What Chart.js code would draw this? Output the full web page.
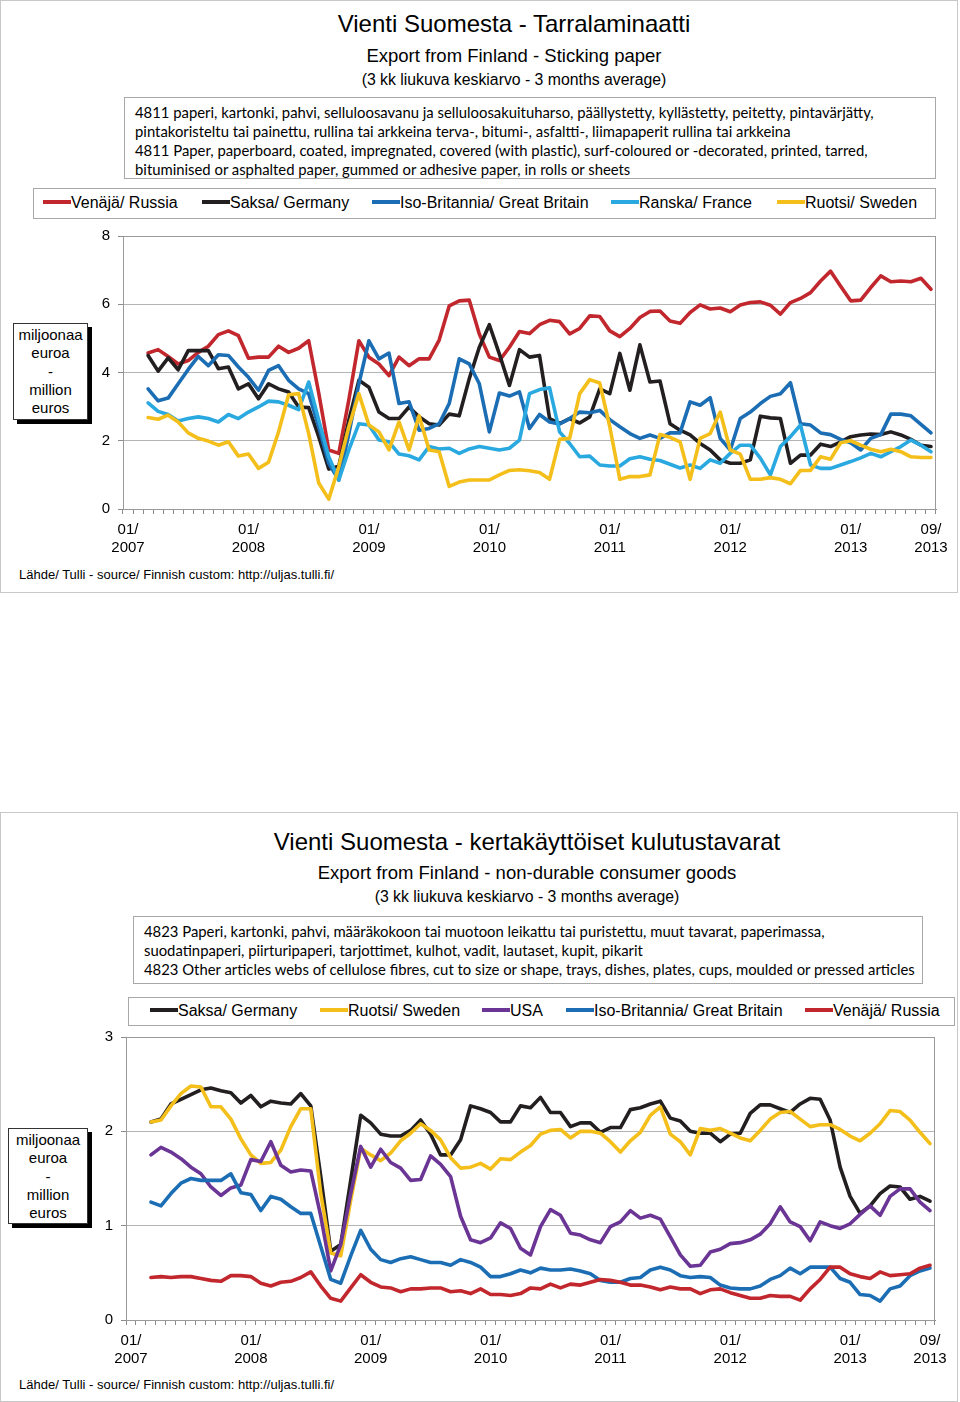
<!DOCTYPE html>
<html>
<head>
<meta charset="utf-8">
<script src="https://cdn.jsdelivr.net/npm/chart.js@4.4.0/dist/chart.umd.min.js"></script>
<style>
body { margin: 0; width: 960px; height: 1402px; position: relative; background: #fff; overflow: hidden;
       font-family: "Liberation Sans", Arial, sans-serif; color: #000; }
.frame { position: absolute; left: 0; width: 956px; border: 1px solid #c8c8c8; }
.abs { position: absolute; white-space: nowrap; }
.title { font-size: 24px; line-height: 28px; width: 800px; text-align: center; }
.sub { font-size: 18.5px; line-height: 22px; width: 800px; text-align: center; }
.note { font-size: 15.8px; line-height: 18px; width: 800px; text-align: center; }
.desc { position: absolute; border: 1px solid #a8a8a8; font-family: Lato, sans-serif; font-size: 14.85px; line-height: 19px; padding: 5px 0 0 10px; box-sizing: border-box; white-space: nowrap; }
.legbox { position: absolute; border: 1px solid #a8a8a8; box-sizing: border-box; }
.leg { position: absolute; font-size: 16px; line-height: 18px; white-space: nowrap; }
.leg i { display: inline-block; width: 28px; height: 4px; vertical-align: middle; margin-top: -3px; }
.ybox { position: absolute; border: 1px solid #333; background: #fff; box-shadow: 4px 4px 0 #000; font-size: 15px; line-height: 18.3px; text-align: center; padding-top: 2px; box-sizing: border-box; }
.src { position: absolute; font-size: 13px; line-height: 16px; white-space: nowrap; }
canvas { position: absolute; left: 0; }
</style>
</head>
<body>

<div class="frame" style="top:0;height:591px"></div>
<div class="frame" style="top:812px;height:588px"></div>

<div class="abs title" style="left:114px;top:10px">Vienti Suomesta - Tarralaminaatti</div>
<div class="abs sub" style="left:114px;top:45px">Export from Finland - Sticking paper</div>
<div class="abs note" style="left:114px;top:71px">(3 kk liukuva keskiarvo - 3 months average)</div>
<div class="desc" style="left:124px;top:97px;width:812px;height:82px">
4811 paperi, kartonki, pahvi, selluloosavanu ja selluloosakuituharso, päällystetty, kyllästetty, peitetty, pintavärjätty,<br>
pintakoristeltu tai painettu, rullina tai arkkeina terva-, bitumi-, asfaltti-, liimapaperit rullina tai arkkeina<br>
4811 Paper, paperboard, coated, impregnated, covered (with plastic), surf-coloured or -decorated, printed, tarred,<br>
bituminised or asphalted paper, gummed or adhesive paper, in rolls or sheets
</div>
<div class="legbox" style="left:33px;top:188px;width:903px;height:31px"></div>
<div id="leg1"></div>
<div class="ybox" style="left:13px;top:323px;width:75px;height:97px">miljoonaa<br>euroa<br>-<br>million<br>euros</div>
<canvas id="chart1" width="960" height="346" style="top:219px"></canvas>
<div class="src" style="left:19px;top:567px">Lähde/ Tulli - source/ Finnish custom: http://uljas.tulli.fi/</div>

<div class="abs title" style="left:127px;top:828px">Vienti Suomesta - kertakäyttöiset kulutustavarat</div>
<div class="abs sub" style="left:127px;top:862px">Export from Finland - non-durable consumer goods</div>
<div class="abs note" style="left:127px;top:888px">(3 kk liukuva keskiarvo - 3 months average)</div>
<div class="desc" style="left:133px;top:916px;width:790px;height:68px">
4823 Paperi, kartonki, pahvi, määräkokoon tai muotoon leikattu tai puristettu, muut tavarat, paperimassa,<br>
suodatinpaperi, piirturipaperi, tarjottimet, kulhot, vadit, lautaset, kupit, pikarit<br>
4823 Other articles webs of cellulose fibres, cut to size or shape, trays, dishes, plates, cups, moulded or pressed articles
</div>
<div class="legbox" style="left:128px;top:997px;width:827px;height:29px"></div>
<div id="leg2"></div>
<div class="ybox" style="left:8px;top:1128px;width:80px;height:96px">miljoonaa<br>euroa<br>-<br>million<br>euros</div>
<canvas id="chart2" width="960" height="356" style="top:1020px"></canvas>
<div class="src" style="left:19px;top:1377px">Lähde/ Tulli - source/ Finnish custom: http://uljas.tulli.fi/</div>

<script>
// Kuukaudet 01/2007 - 09/2013
const years = ['2007', '2008', '2009', '2010', '2011', '2012', '2013'];
const monthNames = ['01', '02', '03', '04', '05', '06', '07', '08', '09', '10', '11', '12'];
let months = [];
years.forEach(y => {
    monthNames.forEach(m => {
        if (!(y == '2013' && Number(m) > 9)) months.push(m + '/' + y);
    });
});
// Kuukaudet joille näytetään akselin teksti
const xTickLabels = ['01/2007', '01/2008', '01/2009', '01/2010', '01/2011', '01/2012', '01/2013', '09/2013'];

// --- Tarralaminaatti (milj. euroa), 03/2007 alkaen ---
const russia1 = [null, null,
    4.57, 4.67, 4.47, 4.25, 4.35, 4.59, 4.77, 5.11, 5.22, 5.08, 4.42, 4.45, 4.45, 4.77, 4.59, 4.71, 4.93, 3.4, 1.73, 1.63,
    3.2, 4.93, 4.45, 4.25, 3.91, 4.45, 4.20, 4.40, 4.40, 4.95, 5.95, 6.10, 6.12, 5.13, 4.45, 4.35, 4.74, 5.20, 5.14,
    5.40, 5.53, 5.49, 5.13, 5.29, 5.66, 5.64, 5.22, 5.05, 5.29, 5.61, 5.79, 5.80, 5.51, 5.44, 5.76, 5.98, 5.86, 5.89,
    5.78, 5.98, 6.05, 6.07, 5.97, 5.71, 6.05, 6.17, 6.34, 6.68, 6.97, 6.53, 6.10, 6.12, 6.49, 6.83, 6.66, 6.68, 6.66,
    6.76, 6.44];
const germany1 = [null, null,
    4.50, 4.04, 4.43, 4.08, 4.64, 4.64, 4.64, 4.11, 4.16, 3.52, 3.67, 3.23, 3.67, 3.52, 3.43, 2.99, 2.97, 2.12, 1.17, 1.25,
    2.6, 3.77, 3.57, 2.84, 2.65, 2.65, 2.99, 2.70, 2.50, 2.46, 2.78, 2.73, 3.82, 4.74, 5.40, 4.54, 3.62, 4.67, 4.45,
    4.50, 2.65, 2.50, 2.65, 2.52, 2.70, 3.52, 3.38, 4.56, 3.48, 4.81, 3.72, 3.75, 2.50, 2.31, 2.17, 1.92, 1.73, 1.44,
    1.34, 1.34, 1.44, 2.72, 2.67, 2.65, 1.34, 1.58, 1.58, 1.90, 1.83, 1.97, 2.12, 2.17, 2.20, 2.18, 2.26, 2.17, 2.04,
    1.87, 1.83];
const britain1 = [null, null,
    3.52, 3.17, 3.25, 3.67, 4.09, 4.47, 4.20, 4.52, 4.50, 4.16, 3.86, 3.48, 4.06, 4.20, 3.77, 3.52, 3.38, 2.41, 1.34, 0.85,
    2.2, 3.67, 4.93, 4.40, 4.57, 3.09, 3.14, 2.31, 2.36, 2.50, 3.09, 4.40, 4.25, 3.67, 2.26, 3.40, 3.31, 3.43, 2.36,
    2.77, 2.55, 2.49, 2.65, 2.84, 2.82, 2.89, 2.62, 2.41, 2.21, 2.07, 2.17, 2.07, 2.23, 2.23, 3.14, 3.04, 3.26, 2.07,
    1.73, 2.65, 2.84, 3.09, 3.30, 3.38, 3.70, 2.50, 2.46, 2.23, 2.18, 2.04, 1.94, 1.73, 2.07, 2.18, 2.78, 2.78, 2.73,
    2.48, 2.23];
const france1 = [null, null,
    3.11, 2.86, 2.77, 2.58, 2.65, 2.70, 2.65, 2.55, 2.77, 2.65, 2.84, 2.99, 3.16, 3.14, 3.04, 2.91, 3.72, 2.60, 1.53, 0.85,
    1.73, 2.50, 2.46, 2.02, 1.97, 1.61, 1.56, 1.44, 1.83, 1.76, 1.78, 1.63, 1.76, 1.83, 1.78, 1.73, 1.78, 2.02, 3.38,
    3.50, 3.55, 2.26, 1.92, 1.53, 1.55, 1.29, 1.26, 1.26, 1.47, 1.53, 1.46, 1.42, 1.31, 1.20, 1.29, 1.19, 1.44, 1.34,
    1.63, 1.87, 1.87, 1.49, 1.00, 1.83, 2.12, 2.46, 1.29, 1.19, 1.19, 1.29, 1.39, 1.50, 1.63, 1.53, 1.68, 1.83, 2.02,
    1.87, 1.68];
const sweden1 = [null, null,
    2.68, 2.63, 2.75, 2.55, 2.23, 2.07, 1.99, 1.87, 1.97, 1.55, 1.61, 1.19, 1.37, 2.26, 3.35, 3.38, 2.21, 0.76, 0.29, 1.24,
    2.41, 3.38, 2.46, 2.26, 1.73, 2.55, 1.73, 2.73, 1.73, 1.68, 0.66, 0.79, 0.85, 0.85, 0.85, 1.00, 1.13, 1.15, 1.12,
    1.07, 0.87, 2.04, 2.07, 3.38, 3.79, 3.69, 2.41, 0.87, 0.95, 0.95, 1.00, 2.18, 2.10, 1.97, 0.87, 2.07, 2.21, 2.84,
    1.73, 1.61, 0.87, 0.87, 0.92, 0.87, 0.74, 1.13, 1.13, 1.53, 1.46, 1.94, 2.00, 1.87, 1.75, 1.68, 1.75, 1.68, 1.53,
    1.51, 1.51];

// --- Kertakäyttöiset kulutustavarat (milj. euroa) ---
const germany2 = [null, null,
    2.10, 2.13, 2.29, 2.34, 2.39, 2.44, 2.46, 2.43, 2.41, 2.30, 2.38, 2.26, 2.32, 2.30, 2.29, 2.40, 2.27, 1.52, 0.73, 0.80,
    1.48, 2.17, 2.09, 1.97, 1.95, 1.95, 2.01, 2.12, 1.97, 1.75, 1.75, 1.91, 2.27, 2.24, 2.20, 2.10, 2.10, 2.27, 2.25,
    2.36, 2.20, 2.20, 2.05, 2.09, 2.09, 1.99, 2.04, 2.04, 2.23, 2.25, 2.29, 2.32, 2.14, 2.11, 2.00, 1.98, 1.98, 1.89,
    1.97, 1.98, 2.19, 2.28, 2.28, 2.24, 2.20, 2.29, 2.35, 2.34, 2.12, 1.62, 1.31, 1.13, 1.21, 1.34, 1.42, 1.41, 1.28,
    1.31, 1.26];
const sweden2 = [null, null,
    2.10, 2.12, 2.27, 2.40, 2.48, 2.47, 2.26, 2.26, 2.13, 1.92, 1.75, 1.66, 1.67, 1.80, 2.05, 2.24, 2.24, 1.34, 0.71, 0.68,
    1.27, 1.82, 1.75, 1.69, 1.77, 1.90, 1.98, 2.08, 2.01, 1.91, 1.72, 1.61, 1.62, 1.66, 1.60, 1.71, 1.70, 1.78, 1.85,
    1.97, 2.01, 2.02, 1.93, 2.00, 2.00, 1.98, 1.89, 1.78, 1.90, 1.99, 2.17, 2.26, 1.97, 1.89, 1.75, 2.03, 2.01, 2.03,
    1.98, 1.93, 1.90, 2.01, 2.13, 2.20, 2.21, 2.13, 2.05, 2.07, 2.07, 2.02, 1.95, 1.90, 1.98, 2.08, 2.22, 2.21, 2.12,
    1.99, 1.87];
const usa2 = [null, null,
    1.75, 1.83, 1.78, 1.71, 1.62, 1.55, 1.41, 1.32, 1.40, 1.43, 1.70, 1.68, 1.89, 1.64, 1.57, 1.59, 1.58, 1.10, 0.52, 0.80,
    1.34, 1.84, 1.62, 1.81, 1.67, 1.61, 1.48, 1.49, 1.74, 1.65, 1.52, 1.10, 0.85, 0.82, 0.87, 1.03, 0.97, 0.76, 0.69,
    0.99, 1.17, 1.11, 0.92, 0.90, 0.85, 0.82, 0.99, 1.04, 1.16, 1.08, 1.11, 1.07, 0.88, 0.69, 0.57, 0.58, 0.72, 0.75,
    0.81, 0.82, 0.85, 0.91, 1.02, 1.20, 1.04, 0.99, 0.84, 1.04, 1.00, 0.97, 1.02, 1.12, 1.21, 1.11, 1.31, 1.39, 1.39,
    1.25, 1.16];
const britain2 = [null, null,
    1.25, 1.21, 1.34, 1.45, 1.50, 1.48, 1.48, 1.48, 1.55, 1.35, 1.33, 1.16, 1.31, 1.28, 1.20, 1.13, 1.13, 0.78, 0.43, 0.39,
    0.68, 0.95, 0.75, 0.64, 0.61, 0.65, 0.67, 0.64, 0.61, 0.61, 0.58, 0.64, 0.61, 0.56, 0.46, 0.46, 0.49, 0.53, 0.50,
    0.55, 0.53, 0.53, 0.54, 0.52, 0.49, 0.42, 0.40, 0.40, 0.44, 0.45, 0.53, 0.56, 0.53, 0.47, 0.45, 0.46, 0.45, 0.37,
    0.34, 0.33, 0.33, 0.36, 0.43, 0.47, 0.55, 0.49, 0.56, 0.56, 0.56, 0.44, 0.40, 0.27, 0.26, 0.20, 0.33, 0.36, 0.47,
    0.52, 0.55];
const russia2 = [null, null,
    0.45, 0.46, 0.45, 0.46, 0.46, 0.44, 0.42, 0.41, 0.47, 0.47, 0.46, 0.39, 0.36, 0.40, 0.41, 0.45, 0.51, 0.36, 0.23, 0.20,
    0.34, 0.48, 0.40, 0.35, 0.34, 0.30, 0.33, 0.33, 0.34, 0.34, 0.30, 0.31, 0.28, 0.33, 0.27, 0.27, 0.26, 0.28, 0.34,
    0.33, 0.38, 0.34, 0.38, 0.37, 0.40, 0.43, 0.42, 0.40, 0.37, 0.37, 0.35, 0.32, 0.35, 0.33, 0.33, 0.28, 0.32, 0.33,
    0.29, 0.26, 0.23, 0.23, 0.26, 0.25, 0.25, 0.21, 0.33, 0.43, 0.56, 0.56, 0.49, 0.46, 0.44, 0.51, 0.47, 0.48, 0.49,
    0.55, 0.58];

const RED = '#c1272d', BLACK = '#231f20', BLUE = '#1b6db4', LIGHTBLUE = '#2aa8e0', YELLOW = '#f4bf1a', PURPLE = '#6a3595';

const series1 = [
    { name: 'Venäjä/ Russia', data: russia1, color: RED, x: 43 },
    { name: 'Saksa/ Germany', data: germany1, color: BLACK, x: 202 },
    { name: 'Iso-Britannia/ Great Britain', data: britain1, color: BLUE, x: 372 },
    { name: 'Ranska/ France', data: france1, color: LIGHTBLUE, x: 611 },
    { name: 'Ruotsi/ Sweden', data: sweden1, color: YELLOW, x: 777 }
];
const series2 = [
    { name: 'Saksa/ Germany', data: germany2, color: BLACK, x: 150 },
    { name: 'Ruotsi/ Sweden', data: sweden2, color: YELLOW, x: 320 },
    { name: 'USA', data: usa2, color: PURPLE, x: 482 },
    { name: 'Iso-Britannia/ Great Britain', data: britain2, color: BLUE, x: 566 },
    { name: 'Venäjä/ Russia', data: russia2, color: RED, x: 805 }
];

// Legenda HTML:nä
function makeLegend(id, series, top) {
    let html = '';
    series.forEach(s => {
        html += '<div class="leg" style="left:' + s.x + 'px;top:' + top + 'px"><i style="background:' + s.color + '"></i>' + s.name + '</div>';
    });
    document.getElementById(id).innerHTML = html;
}
makeLegend('leg1', series1, 194);
makeLegend('leg2', series2, 1002);

// Kehys piirtoalueen ympärille
const frameBorder = {
    id: 'frameBorder',
    afterDraw(chart) {
        const a = chart.chartArea, c = chart.ctx;
        c.save();
        c.strokeStyle = '#9a9a9a';
        c.lineWidth = 1;
        c.strokeRect(a.left + 0.5, a.top + 0.5, a.right - a.left - 1, a.bottom - a.top);
        c.restore();
    }
};

function makeChart(canvasId, series, yMax, yStep, yWidth, rightPad, xHeight) {
    const ctx = document.getElementById(canvasId).getContext('2d');
    return new Chart(ctx, {
        type: 'line',
        data: {
            labels: months,
            datasets: series.map((s, i) => ({
                label: s.name,
                data: s.data,
                borderColor: s.color,
                backgroundColor: s.color,
                borderWidth: 3.6,
                pointRadius: 0,
                tension: 0,
                borderJoinStyle: 'round',
                borderCapStyle: 'round',
                order: series.length - i
            }))
        },
        options: {
            responsive: false,
            animation: false,
            layout: { padding: { top: 10, right: rightPad, left: 0, bottom: 0 } },
            plugins: { legend: { display: false }, tooltip: { enabled: false } },
            scales: {
                x: {
                    offset: true,
                    afterFit: scale => { scale.height = xHeight; },
                    grid: { drawOnChartArea: false, drawTicks: true, tickLength: 5, tickColor: '#8c8c8c', offset: true },
                    border: { display: true, color: '#8c8c8c' },
                    ticks: {
                        autoSkip: false, maxRotation: 0, padding: 7, color: '#000',
                        font: { family: 'Liberation Sans', size: 15, lineHeight: 1.2 },
                        callback: function (val, idx) {
                            const lab = months[idx];
                            if (xTickLabels.includes(lab)) return [lab.slice(0, 3), lab.slice(3)];
                            return '';
                        }
                    }
                },
                y: {
                    min: 0, max: yMax,
                    afterFit: scale => { scale.width = yWidth; },
                    grid: { color: '#b4b4b4', tickLength: 5, tickColor: '#8c8c8c' },
                    border: { display: true, color: '#8c8c8c' },
                    ticks: { stepSize: yStep, padding: 8, color: '#000', font: { family: 'Liberation Sans', size: 15 } }
                }
            }
        },
        plugins: [frameBorder]
    });
}

makeChart('chart1', series1, 8, 2, 123, 24, 56);
makeChart('chart2', series2, 3, 1, 126, 25, 56);
</script>
</body>
</html>
